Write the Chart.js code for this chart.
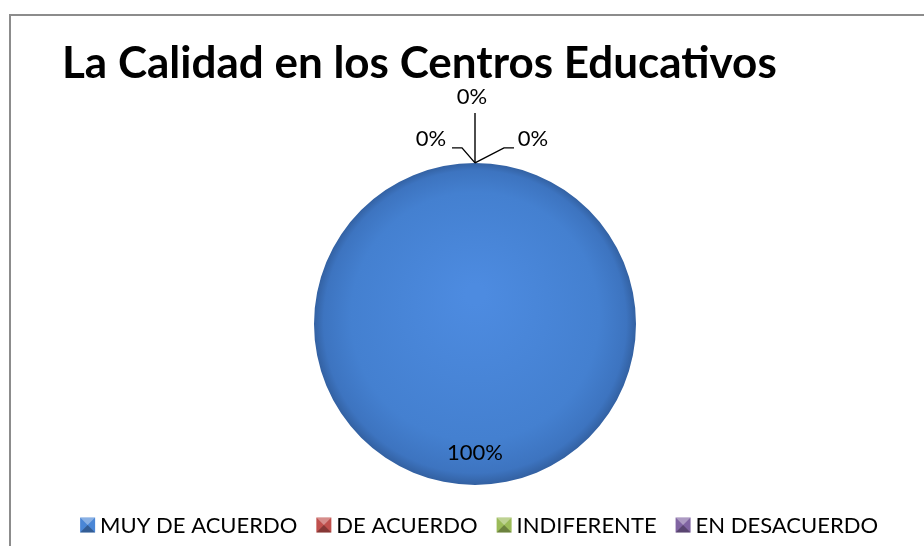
<!DOCTYPE html>
<html>
<head>
<meta charset="utf-8">
<script src="https://cdn.jsdelivr.net/npm/chart.js@4.4.1/dist/chart.umd.min.js"></script>
<style>
    html, body { margin: 0; padding: 0; background: #fff; }
    body { width: 924px; height: 546px; position: relative; overflow: hidden; }
    .frame { position: absolute; left: 9px; top: 14px; width: 960px; height: 600px; border: 2px solid #8c8c8c; }
    #chart { position: absolute; left: 0; top: 0; }
</style>
</head>
<body>
<div class="frame"></div>
<canvas id="chart" width="924" height="546"></canvas>
<script>
    // chart data
    const categories = ['MUY DE ACUERDO', 'DE ACUERDO', 'INDIFERENTE', 'EN DESACUERDO'];
    const percentValues = [100, 0, 0, 0];
    const sliceColors = ['#4a86d6', '#c0504d', '#9bbb59', '#8064a2'];

    const FONT = 'Lato, "Open Sans", sans-serif';

    // beveled little square, like the office legend keys
    function drawMarker(ctx, x, y, s, color) {
        ctx.save();
        ctx.fillStyle = color;
        ctx.fillRect(x, y, s, s);
        ctx.globalAlpha = 0.35;
        ctx.fillStyle = '#fff';
        ctx.beginPath(); ctx.moveTo(x, y); ctx.lineTo(x + s, y); ctx.lineTo(x + s / 2, y + s / 2); ctx.closePath(); ctx.fill();
        ctx.globalAlpha = 0.3;
        ctx.fillStyle = '#000';
        ctx.beginPath(); ctx.moveTo(x, y + s); ctx.lineTo(x + s, y + s); ctx.lineTo(x + s / 2, y + s / 2); ctx.closePath(); ctx.fill();
        ctx.restore();
    }

    // legend drawn by hand so the key/text spacing can follow the original
    const bottomLegend = {
        id: 'bottomLegend',
        afterDraw(chart) {
            let ctx = chart.ctx;
            let size = 15, gap = 5, spacing = 19;
            ctx.save();
            ctx.font = '22px ' + FONT;
            ctx.textBaseline = 'middle';
            ctx.textAlign = 'left';
            let widths = categories.map(c => ctx.measureText(c).width);
            let total = widths.reduce((s, w) => s + size + gap + w, 0) + spacing * (categories.length - 1);
            let x = chart.width - 46 - total;
            let y = 525;
            categories.forEach((c, i) => {
                drawMarker(ctx, x, y - size / 2, size, sliceColors[i]);
                ctx.fillStyle = '#000';
                ctx.fillText(c, x + size + gap, y + 1);
                x += size + gap + widths[i] + spacing;
            });
            ctx.restore();
        }
    };

    // 0% labels: label offset + leader line, relative to the point on the rim
    const zeroLabelOffsets = [
        {dx: -44, dy: -24, path: [[0, 0], [-13, -15], [-23, -15]]},
        {dx: -3, dy: -66, path: [[0, 0], [0, -50]]},
        {dx: 58, dy: -24, path: [[0, 0], [29, -15], [39, -15]]},
    ];

    const pieLabels = {
        id: 'pieLabels',
        afterDatasetsDraw(chart) {
            let ctx = chart.ctx;
            let meta = chart.getDatasetMeta(0);
            let zeroIndex = 0;
            ctx.save();
            ctx.font = '22px ' + FONT;
            ctx.fillStyle = '#000';
            ctx.strokeStyle = '#000';
            ctx.lineWidth = 1.4;
            ctx.textAlign = 'center';
            ctx.textBaseline = 'middle';
            meta.data.forEach((arc, i) => {
                let p = arc.getProps(['x', 'y', 'startAngle', 'endAngle', 'outerRadius'], true);
                let text = percentValues[i] + '%';
                if (percentValues[i] > 0) {
                    let mid = (p.startAngle + p.endAngle) / 2;
                    let r = p.outerRadius * 0.8;
                    ctx.fillText(text, p.x + Math.cos(mid) * r, p.y + Math.sin(mid) * r);
                } else {
                    let ax = p.x + Math.cos(p.startAngle) * p.outerRadius;
                    let ay = p.y + Math.sin(p.startAngle) * p.outerRadius;
                    let o = zeroLabelOffsets[zeroIndex++];
                    ctx.beginPath();
                    o.path.forEach((pt, k) => {
                        if (k === 0) ctx.moveTo(ax + pt[0], ay + pt[1]);
                        else ctx.lineTo(ax + pt[0], ay + pt[1]);
                    });
                    ctx.stroke();
                    ctx.fillText(text, ax + o.dx, ay + o.dy);
                }
            });
            ctx.restore();
        }
    };

    function pieFill(context) {
        let chart = context.chart;
        let idx = context.dataIndex;
        if (idx !== 0 || !chart.chartArea) return sliceColors[idx];
        let a = chart.chartArea;
        let cx = (a.left + a.right) / 2, cy = (a.top + a.bottom) / 2;
        let g = chart.ctx.createRadialGradient(cx, cy - 30, 10, cx, cy, 162);
        g.addColorStop(0, '#4d8be0');
        g.addColorStop(0.75, '#4480d0');
        g.addColorStop(0.93, '#3d74c0');
        g.addColorStop(1, '#325f9f');
        return g;
    }

    new Chart(document.getElementById('chart'), {
        type: 'pie',
        data: {
            labels: categories,
            datasets: [{
                data: percentValues,
                backgroundColor: pieFill,
                borderWidth: 0,
                radius: 161,
            }]
        },
        options: {
            responsive: false,
            animation: false,
            rotation: 0,
            layout: {padding: {left: 62, right: 36, top: 37, bottom: 44}},
            plugins: {
                title: {
                    display: true,
                    text: 'La Calidad en los Centros Educativos',
                    align: 'start',
                    color: '#000',
                    font: {family: FONT, size: 44, weight: 'bold'},
                    padding: {top: 0, bottom: 56},
                },
                legend: {display: false},
                tooltip: {enabled: false},
            }
        },
        plugins: [pieLabels, bottomLegend]
    });
</script>
</body>
</html>
